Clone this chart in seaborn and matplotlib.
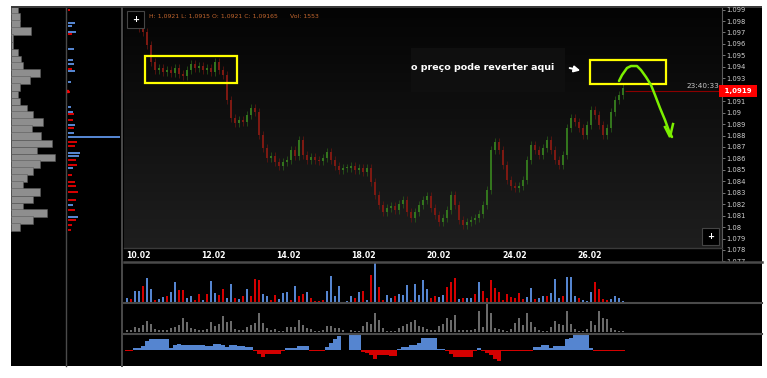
import numpy as np
import pandas as pd
import matplotlib
matplotlib.use('Agg')
import matplotlib.pyplot as plt
import seaborn as sns
from matplotlib.patches import Rectangle
from matplotlib.lines import Line2D
from matplotlib.colors import LinearSegmentedColormap

# ============================================
# data
# ============================================

# closing price of each candle (bar slots 2..124)
closes = [
    1.09791, 1.09739, 1.09704, 1.0959, 1.09442, 1.09372, 1.0939, 1.09355, 1.09372, 1.09346,
    1.0939, 1.09337, 1.0932, 1.09372, 1.09424, 1.0939, 1.09407, 1.09372, 1.0939, 1.09355,
    1.09442, 1.09372, 1.09328, 1.0911, 1.08953, 1.08909, 1.08935, 1.08918, 1.08979, 1.0904,
    1.09005, 1.08804, 1.08691, 1.08603, 1.08621, 1.08568, 1.08533, 1.08568, 1.08586, 1.08673,
    1.08621, 1.0876, 1.0863, 1.08586, 1.08612, 1.08586, 1.08577, 1.08603, 1.08656, 1.08586,
    1.08533, 1.08499, 1.08516, 1.08516, 1.08533, 1.08499, 1.08516, 1.08481, 1.08516, 1.08394,
    1.0828, 1.08193, 1.08132, 1.08167, 1.08184, 1.0815, 1.08202, 1.08237, 1.08132, 1.0808,
    1.08132, 1.08193, 1.08237, 1.08272, 1.08167, 1.08106, 1.08045, 1.0808, 1.0815, 1.0828,
    1.08193, 1.08062, 1.08018, 1.08045, 1.08062, 1.0808, 1.08114, 1.08193, 1.08324, 1.08673,
    1.08743, 1.08673, 1.08542, 1.08411, 1.08359, 1.08341, 1.08359, 1.08411, 1.08586, 1.08717,
    1.08673, 1.0863, 1.08691, 1.0876, 1.08673, 1.08586, 1.08542, 1.0863, 1.08865, 1.08953,
    1.08918, 1.08865, 1.08804, 1.08892, 1.09022, 1.08979, 1.08892, 1.08804, 1.08865, 1.09005,
    1.0911, 1.09154, 1.09215,
]

# volume delta per bar (+ buyers / - sellers)
delta = [
    4, -3, 11, 11, -16, 24, 13, -2, 3, 5, -6, 10, 20, -12, -12, 4, 6, -2, -8, 2,
    -8, 21, 9, -7, -13, 4, 18, -4, 3, -6, 13, -6, -23, -22, 8, 6, -2, -7, 3, 9,
    10, -2, 16, -6, -8, 10, -4, -1, -1, -2, 11, 26, 6, 16, 0, 1, 6, -4, 10, -11,
    2, -27, 39, -15, -2, 7, 4, -6, 8, 7, 17, -2, 18, 7, 22, 13, -4, -6, 5, 7,
    -15, -20, -24, 3, -4, 4, 4, -8, 20, -11, -4, -22, -14, -10, -2, -8, -5, -4, -9, -3,
    5, 14, -3, 4, 6, -6, 9, 23, 4, -6, 25, 25, 6, -4, 2, 1, 10, -20, -13, -3,
    -2, 3, 6, 4, 1,
]

# total volume per bar
volume = [
    2, 2, 5, 4, 7, 11, 8, 3, 2, 2, 2, 4, 5, 7, 14, 10, 4, 3, 2, 2,
    3, 10, 6, 8, 16, 10, 11, 3, 2, 2, 5, 7, 9, 19, 9, 4, 2, 3, 1, 1,
    5, 5, 5, 12, 7, 4, 3, 1, 1, 2, 6, 6, 4, 4, 2, 0, 2, 1, 1, 6,
    10, 8, 19, 12, 4, 1, 1, 1, 4, 6, 8, 10, 12, 6, 5, 3, 2, 2, 6, 8,
    14, 12, 17, 2, 2, 2, 2, 3, 21, 5, 29, 19, 4, 3, 2, 1, 3, 9, 14, 7,
    19, 10, 5, 2, 1, 1, 5, 11, 8, 7, 21, 8, 3, 1, 1, 3, 11, 7, 21, 14,
    13, 4, 2, 1, 1,
]

# cumulative delta per bar
cum_delta = [
    -0.3, -0.3, 2, 2, 4, 9, 11, 11, 11, 11.5, 11.5, 2, 5, 6, 5, 5, 5, 5, 5, 5,
    4, 4, 6, 6, 5, 3, 5, 5, 4, 4, 3, 3, -1, -4, -7, -4, -4, -4, -4, -1,
    2, 2, 2, 4, 4, 4, -0.5, -0.7, -0.7, -0.7, 3, 7, 11, 14, 0, 0, 15.5, 15.5, 15.5, -2,
    -3, -5, -9, -5, -5, -5, -6, -6, 1, 3, 3, 5, 5, 7, 12, 12, 12, 12, 1, 1,
    -1, -4, -7, -7, -7, -7, -7, -1, 2, -0.5, -3, -5, -9, -11, -1, -1, -0.5, -0.5, -1, -1,
    -1, -1, 3, 3, 5, 5, 2, 4, 4, 4, 11, 12, 15, 15, 15, 15, 2, -1, -1, -1,
    -1, -1, -1, -1, -0.5,
]

# volume profile (left panel)
profile_prices = [
    1.09896, 1.09835, 1.09774, 1.09713, 1.09652, 1.0959, 1.09529, 1.09468, 1.09407, 1.09346,
    1.09285, 1.09224, 1.09162, 1.09101, 1.0904, 1.08979, 1.08918, 1.08857, 1.08796, 1.08734,
    1.08673, 1.08612, 1.08551, 1.0849, 1.08429, 1.08368, 1.08307, 1.08245, 1.08184, 1.08123,
    1.08062, 1.08001,
]
profile_volume = [
    7, 9, 9, 20, 2, 2, 7, 10, 12, 29, 19, 9, 7, 9, 16, 22, 32, 21, 30, 41,
    26, 44, 29, 22, 16, 12, 29, 22, 12, 36, 22, 9,
]

# bid/ask level bars (second panel)
level_prices = [
    1.09896, 1.09783, 1.09756, 1.09704, 1.09686, 1.09555, 1.0946, 1.09424, 1.09381, 1.09363,
    1.09267, 1.0918, 1.09049, 1.09005, 1.08988, 1.08935, 1.08892, 1.08865, 1.08822, 1.08787,
    1.08743, 1.08708, 1.08647, 1.08621, 1.08586, 1.08542, 1.08516, 1.08455, 1.08394, 1.08359,
    1.08307, 1.08237, 1.08193, 1.0815, 1.08088, 1.08062, 1.08018, 1.07975,
]
level_size = [
    -2, 7, 4, 8, -4, 6, 5, 6, -4, 7, 3, -2, 3, 5, -6, -5, 7, -6, 6, 52,
    -9, -7, 12, 11, -8, -9, 5, -4, -7, -8, -10, -8, 5, -7, 10, -8, -4, -3,
]

date_labels = ['10.02', '12.02', '14.02', '18.02', '20.02', '24.02', '26.02']
date_trading_day = [0, 2, 4, 6, 8, 10, 12]

current_price = 1.0919
last_bar = dict(H='1,0921', L='1,0915', O='1,0921', C='1,09165', Vol='1553')

# hand-drawn annotation (bar slot, price)
green_path = [
    (123, 1.09276), (123.75, 1.09328), (125, 1.0939), (126, 1.09407), (127.5, 1.09407),
    (128.5, 1.09372), (129.75, 1.09311), (131, 1.09241), (132, 1.09154), (133.25, 1.0904),
    (134.5, 1.08935), (135.5, 1.08839), (136.25, 1.08787),
]
green_head = [(134.5, 1.08874), (135.75, 1.08787), (136.5, 1.0890)]
box_range = [(4.5, 27.5, 1.09259, 1.09494), (115.75, 134.75, 1.0925, 1.0946)]

# ============================================
# layout helpers
# ============================================
W, H = 767, 378
BLUE, RED, GRAY = '#5585d0', '#d40000', '#6a6a6a'
SEP = '#4a4a4a'


def px_box(x0, y0, x1, y1):
    return [x0 / W, 1 - y1 / H, (x1 - x0) / W, (y1 - y0) / H]


def fig_line(x0, y0, x1, y1, color=SEP, lw=1.2):
    fig.add_artist(Line2D([x0 / W, x1 / W], [1 - y0 / H, 1 - y1 / H],
                          transform=fig.transFigure, color=color, lw=lw, zorder=5))


price_top = 1.09914
main_bottom = 1.07817
axis_bottom = 1.07695
side_bottom = 1.06787
k_left, main_right, sub_right = -0.75, 148.75, 158.75
candles_per_day, day_offset = 9.4, -0.25

fig = plt.figure(figsize=(W / 100, H / 100), dpi=100, facecolor='white')
fig.add_artist(Rectangle((11 / W, 1 - 366 / H), 751 / W, 358 / H, transform=fig.transFigure,
                         fc='black', ec='none', zorder=-1))
fig.add_artist(Rectangle((11 / W, 1 - 8 / H), 751 / W, 2 / H, transform=fig.transFigure,
                         fc='#3a3a3a', ec='none', zorder=-1))


def blank(ax):
    ax.set_facecolor('black')
    for s in ax.spines.values():
        s.set_visible(False)
    ax.set_xticks([])
    ax.set_yticks([])
    ax.set_xlabel('')
    ax.set_ylabel('')


# ---------- left volume profile ----------
ax_prof = fig.add_axes(px_box(11, 8, 66, 366))
ax_prof.barh(profile_prices, profile_volume, height=0.00062, color='#8e8e8e', edgecolor='#5a5a5a',
             linewidth=0.4, align='center')
ax_prof.set_xlim(0, 55)
ax_prof.set_ylim(side_bottom, price_top)
blank(ax_prof)

# ---------- bid/ask levels ----------
ax_lvl = fig.add_axes(px_box(66, 8, 122, 366))
lv = np.array(level_size)
ax_lvl.barh(level_prices, np.abs(lv), height=0.00015, color=np.where(lv > 0, BLUE, RED), linewidth=0)
ax_lvl.plot([-1.5, 54.5], [current_price, current_price], ls='none', marker='s', ms=1.8, color='red')
ax_lvl.set_xlim(-2, 54)
ax_lvl.set_ylim(side_bottom, price_top)
blank(ax_lvl)

# ---------- main candle chart ----------
ax_main = fig.add_axes(px_box(124, 8, 722, 248))
blank(ax_main)
grad = LinearSegmentedColormap.from_list('bg', ['#1e1e1e', '#040404'])
ax_main.imshow(np.linspace(0, 1, 200).reshape(-1, 1), cmap=grad, origin='lower', aspect='auto',
               extent=[k_left, main_right, main_bottom, price_top], zorder=0)

c = np.array(closes)
o = np.concatenate([[c[0] + 0.0003], c[:-1]])
k = np.arange(len(c)) + 2
up = c >= o
wick = 0.00038
ax_main.vlines(k, np.minimum(o, c) - wick, np.maximum(o, c) + wick,
               colors=np.where(up, '#2a6118', '#6a1510'), lw=0.5, zorder=2)
ax_main.bar(k, np.maximum(np.abs(c - o), 0.00008), bottom=np.minimum(o, c), width=0.3,
            color=np.where(up, '#33751d', '#7d1912'), linewidth=0, zorder=3)

# current price line and timer
ax_main.hlines(current_price, 124.5, main_right, color='#8b0000', lw=0.8, zorder=3)
ax_main.annotate('23:40:33', xy=(1, current_price), xycoords=ax_main.get_yaxis_transform(),
                 xytext=(-2, 1.5), textcoords='offset points', ha='right', va='bottom',
                 fontsize=5.2, color='#c8c8c8')

# OHLC header
hdr = f"H: {last_bar['H']} L: {last_bar['L']} O: {last_bar['O']} C: {last_bar['C']}"
ax_main.text((149 - 124) / 598, 1 - 8 / 240, hdr, transform=ax_main.transAxes, fontsize=4.4,
             color='#c2662e', va='center', ha='left')
ax_main.text((290 - 124) / 598, 1 - 8 / 240, f"Vol: {last_bar['Vol']}", transform=ax_main.transAxes,
             fontsize=4.4, color='#c2662e', va='center', ha='left')

# +/- buttons
for bx, by in [(127, 11), (702, 228)]:
    ax_main.add_patch(Rectangle(((bx - 124) / 598, 1 - (by + 17 - 8) / 240), 17 / 598, 17 / 240,
                                transform=ax_main.transAxes, fc='black', ec='#454545', lw=0.8, zorder=6))
    ax_main.text((bx + 8.5 - 124) / 598, 1 - (by + 8.5 - 8) / 240, '+', transform=ax_main.transAxes,
                 color='white', fontsize=6, ha='center', va='center', zorder=7, fontweight='bold')

# annotation: text, arrow, yellow boxes, green path
ax_main.add_patch(Rectangle((71, 1.0918), 38.5, 0.00384, fc='#0f0f0f', ec='none', zorder=1))
ax_main.text(71, 1.0939, 'o preço pode reverter aqui', color='white', fontsize=6.8, fontweight='bold',
             ha='left', va='center', zorder=8)
ax_main.annotate('', xy=(114, 1.09362), xytext=(110, 1.09395),
                 arrowprops=dict(arrowstyle='-|>,head_length=0.35,head_width=0.18', color='white', lw=1.4),
                 zorder=8)
for x0, x1, y0, y1 in box_range:
    ax_main.add_patch(Rectangle((x0, y0), x1 - x0, y1 - y0, fill=False, ec='#ffff00', lw=1.6, zorder=8))
gp = np.array(green_path)
ax_main.plot(gp[:, 0], gp[:, 1], color='#7cf000', lw=1.8, zorder=9, solid_capstyle='round')
gh = np.array(green_head)
ax_main.plot(gh[:, 0], gh[:, 1], color='#7cf000', lw=1.8, zorder=9, solid_joinstyle='miter')

ax_main.set_xlim(k_left, main_right)
ax_main.set_ylim(main_bottom, price_top)

# ---------- price scale ----------
ax_price = fig.add_axes(px_box(680, 8, 722, 262))
ax_price.patch.set_alpha(0)
for name, s in ax_price.spines.items():
    s.set_visible(name == 'right')
ax_price.spines['right'].set_color('#5a5a5a')
ax_price.set_ylim(axis_bottom, price_top)
ax_price.set_xticks([])
ticks = np.round(np.arange(1.077, 1.0995, 0.001), 3)
ax_price.yaxis.tick_right()
ax_price.set_yticks(ticks)
# the live-price tag covers the label next to it
ax_price.set_yticklabels(['' if abs(t - current_price) < 0.0005 else f'{t:.3f}'.rstrip('0')
                          for t in ticks])
ax_price.tick_params(axis='y', length=2, width=0.6, color='#8a8a8a', labelcolor='#cfcfcf',
                     labelsize=4.9, pad=1)
ax_price.text(1.0, current_price, ' 1,0919 ', transform=ax_price.get_yaxis_transform(),
              ha='left', va='center', color='white', fontsize=5, fontweight='bold', zorder=10,
              bbox=dict(boxstyle='square,pad=0.45', fc='#ff0000', ec='none'))

# ---------- date strip ----------
ax_date = fig.add_axes(px_box(124, 248, 722, 262))
blank(ax_date)
ax_date.set_xlim(k_left, main_right)
ax_date.set_ylim(0, 1)
for lab, d in zip(date_labels, date_trading_day):
    ax_date.text(day_offset + d * candles_per_day, 0.45, lab, color='white', fontsize=5.6,
                 fontweight='bold', ha='left', va='center')

# ---------- lower panels ----------
bars = pd.DataFrame({
    'slot': np.arange(len(delta)),
    'delta': delta,
    'volume': volume,
    'cum': cum_delta,
})
pal = {'buy': BLUE, 'sell': RED}
bars['side'] = np.where(bars['delta'] >= 0, 'buy', 'sell')
bars['cum_side'] = np.where(bars['cum'] >= 0, 'buy', 'sell')

ax_d = fig.add_axes(px_box(124, 262, 762, 302))
ax_d.bar(bars['slot'], bars['delta'].abs(), width=0.5, color=bars['side'].map(pal), linewidth=0)
ax_d.set_ylim(-0.3, 40)

ax_v = fig.add_axes(px_box(124, 302, 762, 333))
sns.barplot(data=bars, x='slot', y='volume', color=GRAY, native_scale=True, width=0.7,
            errorbar=None, linewidth=0, ax=ax_v)
ax_v.set_ylim(-1.2, 30)

ax_c = fig.add_axes(px_box(124, 333, 762, 366))
ax_c.bar(bars['slot'], bars['cum'], width=0.8, color=bars['cum_side'].map(pal), linewidth=0)
ax_c.set_ylim(-15.7, 17.3)

for ax in (ax_d, ax_v, ax_c):
    blank(ax)
    ax.set_xlim(k_left, sub_right)

# ---------- panel separators ----------
fig_line(66, 8, 66, 366, lw=1.0)
fig_line(122.5, 8, 122.5, 366, lw=1.4)
fig_line(124, 247.5, 722, 247.5, color='#3a3a3a', lw=1.0)
fig_line(124, 262, 762, 262, lw=1.8)
fig_line(124, 302.5, 762, 302.5, lw=1.5)
fig_line(124, 333.5, 762, 333.5, lw=1.5)

fig.savefig('out.png', dpi=100, facecolor='white')
